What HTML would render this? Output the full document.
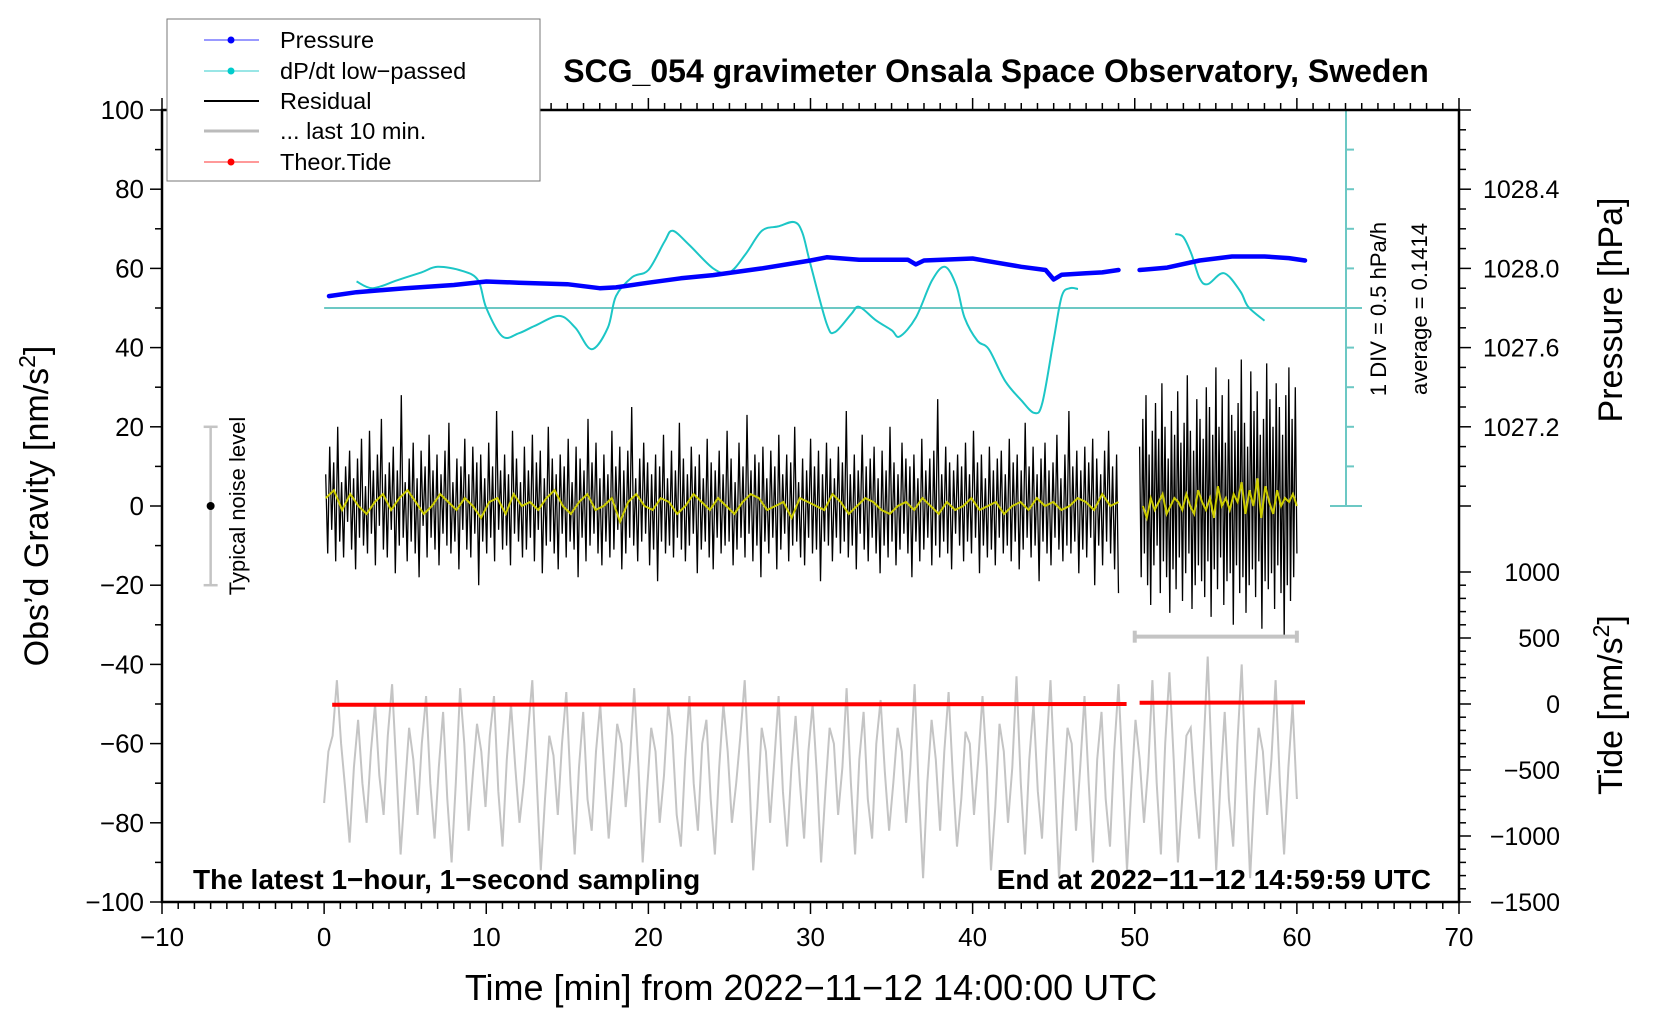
<!DOCTYPE html>
<html><head><meta charset="utf-8">
<style>
html,body{margin:0;padding:0;background:#fff;}
svg{display:block;font-family:"Liberation Sans",sans-serif;}
</style></head>
<body>
<svg id="chart" width="1660" height="1020" viewBox="0 0 1660 1020" xmlns="http://www.w3.org/2000/svg">
<rect x="0" y="0" width="1660" height="1020" fill="#fff"/>
<g id="marks"></g>
<g id="axes"></g>
<text x="996" y="82" font-size="32" font-weight="bold" text-anchor="middle">SCG_054 gravimeter Onsala Space Observatory, Sweden</text>
<text x="811" y="1000" font-size="36" text-anchor="middle">Time [min] from 2022−11−12 14:00:00 UTC</text>
<text transform="translate(48,506) rotate(-90)" font-size="34" text-anchor="middle">Obs’d Gravity [nm/s<tspan baseline-shift="super" font-size="23">2</tspan>]</text>
<text transform="translate(1622,310) rotate(-90)" font-size="34" text-anchor="middle">Pressure [hPa]</text>
<text transform="translate(1622,705) rotate(-90)" font-size="34" text-anchor="middle">Tide [nm/s<tspan baseline-shift="super" font-size="23">2</tspan>]</text>
<text transform="translate(1386,309) rotate(-90)" font-size="22" text-anchor="middle">1 DIV = 0.5 hPa/h</text>
<text transform="translate(1427,309) rotate(-90)" font-size="22" text-anchor="middle">average = 0.1414</text>
<text transform="translate(245,506) rotate(-90)" font-size="22" text-anchor="middle">Typical noise level</text>
<text x="193" y="889" font-size="28" font-weight="bold">The latest 1−hour, 1−second sampling</text>
<text x="1431" y="889" font-size="28" font-weight="bold" text-anchor="end">End at 2022−11−12 14:59:59 UTC</text>
<g>
<rect x="167" y="19" width="373" height="162" fill="#fff" stroke="#777" stroke-width="1"/>
<g><line x1="204" y1="40" x2="259" y2="40" stroke="#33f" stroke-width="1"/><circle cx="231" cy="40" r="3.5" fill="#00f"/><text x="280" y="48" font-size="23.5">Pressure</text></g>
<g><line x1="204" y1="71" x2="259" y2="71" stroke="#3cc" stroke-width="1"/><circle cx="231" cy="71" r="3.5" fill="#0cc"/><text x="280" y="79" font-size="23.5">dP/dt low−passed</text></g>
<g><line x1="204" y1="101" x2="259" y2="101" stroke="#000" stroke-width="2"/><text x="280" y="109" font-size="23.5">Residual</text></g>
<g><line x1="204" y1="131" x2="259" y2="131" stroke="#bbb" stroke-width="3"/><text x="280" y="139" font-size="23.5">... last 10 min.</text></g>
<g><line x1="204" y1="162" x2="259" y2="162" stroke="#f33" stroke-width="1"/><circle cx="231" cy="162" r="3.5" fill="#f00"/><text x="280" y="170" font-size="23.5">Theor.Tide</text></g>
</g>
</svg>
<script>
// ---- data ----
const xTicks = [-10,0,10,20,30,40,50,60,70];
const yTicks = [100,80,60,40,20,0,-20,-40,-60,-80,-100];
const pressureTicks = [1028.4,1028.0,1027.6,1027.2];
const tideTicks = [1000,500,0,-500,-1000,-1500];

const dpdtT1 = [2.0,3.0,4.5,6.0,7.0,8.5,9.5,10.0,11.0,12.0,13.0,14.5,15.5,16.5,17.5,18.0,19.0,20.0,21.0,21.5,22.5,24.0,25.0,26.0,27.0,28.0,29.0,29.5,30.0,31.0,31.5,32.5,33.0,34.0,35.0,35.5,36.5,37.5,38.3,39.0,39.5,40.3,41.0,42.0,43.0,43.8,44.3,45.0,45.5,46.0,46.5];
const dpdtV1 = [56.7,55,57,59,60.4,59.4,57,50,42.8,43.6,45.5,48,45,39.6,45,53,57.8,59.6,66.8,69.5,66,60,59,63.6,69.5,70.6,71.7,69,61,46,43.9,48.4,50.3,47,44.4,42.8,47.6,57,60.4,55.6,47.6,41.7,39.6,31.6,26.7,23.5,26,42,53,55,54.8];
const dpdtT2 = [52.5,53.0,53.5,54.0,54.5,55.5,56.5,57.0,58.0];
const dpdtV2 = [68.7,67.9,63.6,57.5,56,58.8,54.3,50.3,46.8];

const presT1 = [0.3,2,5,8,10,12,15,17,18,20,22,24,27,30,31,33,36,36.5,37,40,41,43,44.5,45,45.5,47,48,49];
const presV1 = [53,54,55,55.8,56.7,56.4,56,55,55.2,56.4,57.5,58.3,60,62,62.8,62.2,62.2,61,62,62.5,61.8,60.4,59.6,57.2,58.4,58.8,59,59.6];
const presT2 = [50.3,52,54,56,58,59.5,60.5];
const presV2 = [59.6,60.2,62,63,63,62.6,62];

const tideT1 = [0.5,49.5];
const tideV1 = [-50.2,-50.0];
const tideT2 = [50.3,60.5];
const tideV2 = [-49.7,-49.6];

const residStart1 = 0.1, residEnd1 = 49.0;
const resid1 = [8,-12,15,-6,11,-14,20,-9,6,-13,10,-4,14,-11,7,-16,12,-8,17,-10,
5,-12,19,-7,9,-15,13,-5,22,-11,8,-13,11,-6,15,-17,9,-10,28,-8,
6,-14,12,-9,16,-12,7,-18,14,-5,10,-13,18,-8,9,-11,13,-15,8,-7,
14,-10,21,-12,6,-9,12,-16,10,-6,17,-11,8,-13,15,-7,11,-20,13,-9,
7,-12,16,-8,10,-14,24,-6,9,-11,13,-10,8,-15,19,-7,12,-9,6,-13,
15,-11,9,-8,18,-14,11,-6,14,-17,7,-10,20,-9,12,-12,8,-16,13,-7,
10,-13,17,-9,6,-11,15,-18,12,-8,9,-14,22,-10,11,-7,16,-12,7,-15,
13,-9,8,-13,19,-11,10,-6,15,-16,9,-12,14,-8,25,-10,7,-14,12,-9,
16,-7,11,-15,8,-11,13,-19,10,-9,18,-12,7,-10,14,-13,9,-8,21,-11,
12,-14,8,-10,15,-7,10,-17,13,-11,7,-9,17,-13,11,-16,9,-8,14,-12,
8,-10,19,-9,12,-15,6,-11,16,-8,10,-13,23,-7,9,-14,13,-10,11,-18,
15,-9,7,-12,14,-8,10,-16,18,-11,8,-7,13,-14,11,-10,20,-9,6,-13,
12,-15,9,-8,17,-12,10,-11,14,-19,8,-9,16,-10,12,-14,7,-8,15,-12,
11,-9,24,-13,8,-10,13,-16,9,-7,18,-11,10,-14,12,-8,15,-12,7,-17,
14,-10,9,-13,20,-9,11,-15,8,-11,16,-7,12,-12,10,-18,13,-9,7,-14,
17,-11,9,-8,12,-15,14,-10,27,-13,8,-9,15,-12,11,-16,9,-7,13,-10,
10,-14,16,-9,8,-12,19,-8,11,-17,13,-10,7,-13,15,-11,9,-15,12,-8,
14,-12,8,-10,17,-14,11,-9,13,-16,9,-11,21,-8,10,-13,15,-10,8,-19,
12,-9,16,-12,9,-15,11,-8,18,-11,7,-14,13,-10,24,-12,10,-9,14,-17,
9,-11,15,-13,11,-8,17,-20,12,-10,8,-15,14,-9,19,-12,10,-16,13,-22];
const residStart2 = 50.3, residEnd2 = 60.0;
const resid2 = [15,-18,22,-12,28,-20,13,-25,19,-15,26,-10,17,-22,31,-14,20,-18,12,-27,
24,-16,18,-21,29,-13,16,-24,21,-17,33,-12,19,-26,14,-20,27,-15,22,-19,
17,-23,30,-14,25,-28,18,-16,35,-21,20,-13,28,-25,16,-19,32,-17,23,-30,
19,-15,26,-22,37,-18,21,-27,15,-20,34,-16,24,-23,29,-14,18,-31,22,-19,
36,-21,27,-17,20,-26,31,-15,25,-22,18,-33,28,-20,35,-24,22,-18,30,-12];

const smoothStart1 = 0.1, smoothEnd1 = 49.0;
const smooth1 = [2,4,-1,3,0,-2,1,3,-1,2,4,1,-2,0,3,1,-1,2,0,-3,1,2,-2,3,0,1,-1,2,4,0,-2,1,3,-1,0,2,-4,1,3,0,-1,2,1,-2,0,3,1,-1,2,0,-2,1,3,2,-1,0,1,-3,2,1,0,-1,3,1,-2,0,2,1,-1,-2,0,1,-1,2,0,-2,1,-1,0,2,-1,0,1,-2,0,1,-1,2,0,1,-1,0,2,1,-1,3,0,1];
const smoothStart2 = 50.5, smoothEnd2 = 60.0;
const smooth2 = [0,-3,2,-1,1,3,-2,0,2,1,-1,3,0,-2,4,1,-1,2,-3,5,0,2,-1,3,1,6,-2,4,0,7,-3,5,1,-2,4,0,2,1,3,0];

const greyStart = 0.0, greyEnd = 60.0;
const grey = [-75,-62,-58,-44,-60,-72,-85,-66,-54,-70,-80,-62,-50,-68,-78,-58,-45,-66,-88,-72,
-56,-64,-78,-60,-48,-70,-84,-66,-52,-74,-90,-70,-46,-60,-82,-68,-55,-62,-76,-58,
-48,-72,-86,-64,-50,-66,-80,-70,-57,-44,-68,-92,-74,-58,-63,-78,-60,-47,-70,-88,
-66,-52,-74,-82,-62,-50,-68,-84,-70,-55,-60,-76,-64,-46,-66,-90,-72,-56,-62,-80,
-68,-50,-58,-78,-86,-64,-48,-70,-82,-60,-54,-74,-88,-66,-50,-62,-80,-70,-58,-44,
-66,-92,-76,-56,-62,-80,-64,-48,-72,-86,-66,-53,-70,-84,-62,-50,-68,-90,-72,-56,
-60,-78,-66,-46,-70,-88,-64,-52,-74,-84,-60,-49,-67,-82,-70,-56,-62,-80,-66,-45,
-72,-94,-70,-54,-64,-82,-62,-47,-68,-86,-74,-57,-60,-78,-64,-48,-66,-92,-76,-55,
-62,-80,-66,-43,-70,-88,-64,-50,-72,-84,-62,-44,-68,-94,-74,-56,-60,-82,-66,-48,
-70,-90,-64,-52,-74,-86,-62,-45,-68,-92,-72,-54,-64,-80,-66,-44,-70,-88,-60,-42,
-64,-90,-74,-58,-56,-72,-84,-62,-38,-66,-92,-70,-52,-74,-86,-60,-40,-68,-94,-72,
-56,-62,-78,-64,-44,-70,-88,-66,-50,-74];

const dpdtAverage = 50;
const noiseLevel = 20;
const noiseT = -7;
const last10Range = [50,60];
const last10Level = -33;

// ---- scales ----
const L=162,R=1459,T=110,B=902;
function X(t){return L+(t+10)/80*(R-L);}
function Y(g){return T+(100-g)/200*(B-T);}
function pToG(p){return 60+(p-1028.0)/0.02;}
function tideToG(v){return -50+v/30;}

const NS="http://www.w3.org/2000/svg";
const marks=document.getElementById('marks');
const axes=document.getElementById('axes');
function mk(tag,attrs,parent){const e=document.createElementNS(NS,tag);for(const k in attrs)e.setAttribute(k,attrs[k]);(parent||marks).appendChild(e);return e;}
function pathFrom(ts,vs){let d='';for(let i=0;i<ts.length;i++)d+=(i?'L':'M')+X(ts[i]).toFixed(1)+','+Y(vs[i]).toFixed(1);return d;}
function evenT(a,b,n){const o=[];for(let i=0;i<n;i++)o.push(a+(b-a)*i/(n-1));return o;}
function smoothPath(ts,vs){const p=ts.map((t,i)=>[X(t),Y(vs[i])]);let d='M'+p[0][0]+','+p[0][1];for(let i=0;i<p.length-1;i++){const p0=p[i-1]||p[i],p1=p[i],p2=p[i+1],p3=p[i+2]||p2;const c1x=p1[0]+(p2[0]-p0[0])/6,c1y=p1[1]+(p2[1]-p0[1])/6,c2x=p2[0]-(p3[0]-p1[0])/6,c2y=p2[1]-(p3[1]-p1[1])/6;d+='C'+c1x.toFixed(1)+','+c1y.toFixed(1)+' '+c2x.toFixed(1)+','+c2y.toFixed(1)+' '+p2[0].toFixed(1)+','+p2[1].toFixed(1);}return d;}

// grey tide-like curve
let e=mk('path',{d:pathFrom(evenT(greyStart,greyEnd,grey.length),grey),fill:'none',stroke:'#c4c4c4','stroke-width':2});



// residual
e=mk('path',{d:pathFrom(evenT(residStart1,residEnd1,resid1.length),resid1),fill:'none',stroke:'#000','stroke-width':1.3});


e=mk('path',{d:pathFrom(evenT(residStart2,residEnd2,resid2.length),resid2),fill:'none',stroke:'#000','stroke-width':1.3});


e=mk('path',{d:pathFrom(evenT(smoothStart1,smoothEnd1,smooth1.length),smooth1),fill:'none',stroke:'#cccc00','stroke-width':2});


e=mk('path',{d:pathFrom(evenT(smoothStart2,smoothEnd2,smooth2.length),smooth2),fill:'none',stroke:'#cccc00','stroke-width':2});



// last 10 min bar
e=mk('g',{stroke:'#c4c4c4','stroke-width':4});


mk('line',{x1:X(last10Range[0]),x2:X(last10Range[1]),y1:Y(last10Level),y2:Y(last10Level)},e);
mk('line',{x1:X(last10Range[0]),x2:X(last10Range[0]),y1:Y(last10Level)-6,y2:Y(last10Level)+6},e);
mk('line',{x1:X(last10Range[1]),x2:X(last10Range[1]),y1:Y(last10Level)-6,y2:Y(last10Level)+6},e);

// tide
e=mk('path',{d:pathFrom(tideT1,tideV1),fill:'none',stroke:'#f00','stroke-width':4});


e=mk('path',{d:pathFrom(tideT2,tideV2),fill:'none',stroke:'#f00','stroke-width':4});



// dP/dt average line and axis
e=mk('line',{x1:X(0),x2:1362,y1:Y(dpdtAverage),y2:Y(dpdtAverage),stroke:'#6cc8c4','stroke-width':2});


const cx=1346;
e=mk('g',{stroke:'#6cc8c4','stroke-width':2});


mk('line',{x1:cx,x2:cx,y1:Y(100),y2:Y(0)},e);
for(let g=10;g<100;g+=10)mk('line',{x1:cx,x2:cx+8,y1:Y(g),y2:Y(g)},e);
mk('line',{x1:cx-16,x2:cx+16,y1:Y(0),y2:Y(0)},e);
mk('line',{x1:cx-16,x2:cx+16,y1:Y(100),y2:Y(100)},e);

// dP/dt curve
e=mk('path',{d:smoothPath(dpdtT1,dpdtV1),fill:'none',stroke:'#1cc6c6','stroke-width':2});


e=mk('path',{d:smoothPath(dpdtT2,dpdtV2),fill:'none',stroke:'#1cc6c6','stroke-width':2});



// pressure
e=mk('path',{d:pathFrom(presT1,presV1),fill:'none',stroke:'#00f','stroke-width':4.5,'stroke-linejoin':'round','stroke-linecap':'round'});


e=mk('path',{d:pathFrom(presT2,presV2),fill:'none',stroke:'#00f','stroke-width':4.5,'stroke-linejoin':'round','stroke-linecap':'round'});



// noise level marker
e=mk('g',{stroke:'#c4c4c4','stroke-width':2.5});


mk('line',{x1:X(noiseT),x2:X(noiseT),y1:Y(noiseLevel),y2:Y(-noiseLevel)},e);
mk('line',{x1:X(noiseT)-7,x2:X(noiseT)+7,y1:Y(noiseLevel),y2:Y(noiseLevel)},e);
mk('line',{x1:X(noiseT)-7,x2:X(noiseT)+7,y1:Y(-noiseLevel),y2:Y(-noiseLevel)},e);
e=mk('circle',{cx:X(noiseT),cy:Y(0),r:4,fill:'#000'});



// ---- axes ----
e=mk('rect',{x:L,y:T,width:R-L,height:B-T,fill:'none',stroke:'#000','stroke-width':2.5},axes);


const tk=mk('g',{stroke:'#000','stroke-width':1.5},axes);
for(let t=-10;t<=70;t+=1){const len=(t%10===0)?12:7;mk('line',{x1:X(t),x2:X(t),y1:B,y2:B+len},tk);mk('line',{x1:X(t),x2:X(t),y1:T,y2:T-len},tk);}
for(let g=-100;g<=100;g+=10){const len=(g%20===0)?12:7;mk('line',{x1:L,x2:L-len,y1:Y(g),y2:Y(g)},tk);}
for(let g=100;g>=0;g-=5){const p=1028+(g-60)*0.02;const maj=Math.abs((p*10)%4)<0.01||Math.abs((p*10)%4-4)<0.01;mk('line',{x1:R,x2:R+(maj?12:7),y1:Y(g),y2:Y(g)},tk);}
for(let v=1000;v>=-1500;v-=100){mk('line',{x1:R,x2:R+(v%500===0?12:7),y1:Y(tideToG(v)),y2:Y(tideToG(v))},tk);}

xTicks.forEach(t=>{const el=mk('text',{x:X(t),y:B+44,'font-size':26,'text-anchor':'middle'},axes);el.textContent=String(t).replace('-','−');

});
yTicks.forEach(g=>{const el=mk('text',{x:L-18,y:Y(g)+9,'font-size':26,'text-anchor':'end'},axes);el.textContent=String(g).replace('-','−');

});
pressureTicks.forEach(p=>{const el=mk('text',{x:1483,y:Y(pToG(p))+9,'font-size':25},axes);el.textContent=p.toFixed(1);

});
tideTicks.forEach(v=>{const el=mk('text',{x:1560,y:Y(tideToG(v))+9,'font-size':25,'text-anchor':'end'},axes);el.textContent=String(v).replace('-','−');

});
</script>
</body></html>
